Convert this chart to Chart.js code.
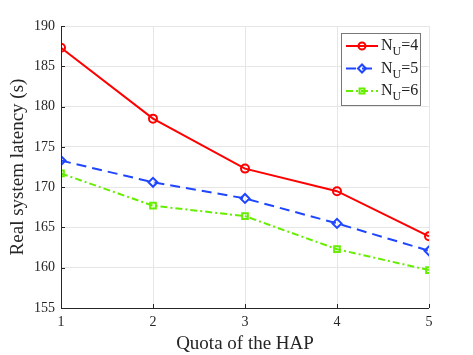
<!DOCTYPE html>
<html>
<head>
<meta charset="utf-8">
<script src="https://cdn.jsdelivr.net/npm/chart.js@4"></script>
<style>
  html, body { margin: 0; padding: 0; background: #fff; }
  #wrap { width: 473px; height: 355px; }
</style>
</head>
<body>
<div id="wrap"><canvas id="chart"></canvas></div>
<script>
const quota = [1, 2, 3, 4, 5];
const latencyNU4 = [187.3, 178.5, 172.3, 169.5, 163.9];
const latencyNU5 = [173.3, 170.6, 168.6, 165.5, 162.1];
const latencyNU6 = [171.7, 167.7, 166.4, 162.3, 159.7];
const seriesLabels = ['4', '5', '6']; // N_U values
const yTicks = [155, 160, 165, 170, 175, 180, 185, 190];

const FONT = 'Liberation Serif';

function toPoints(values) {
    return quota.map((q, i) => ({ x: q, y: values[i] }));
}

// legend drawn by hand, Chart.js legend can't do the subscript
const legendPlugin = {
    id: 'subLegend',
    afterDraw(chart) {
        const ctx = chart.ctx;
        const x0 = 341, y0 = 33, w = 79, h = 72;
        ctx.save();
        ctx.fillStyle = '#fff';
        ctx.fillRect(x0, y0, w, h);
        ctx.strokeStyle = '#777';
        ctx.lineWidth = 1;
        ctx.strokeRect(x0 + 0.5, y0 + 0.5, w, h);

        chart.data.datasets.forEach((ds, i) => {
            const cy = y0 + 13 + i * 22.5;
            ctx.strokeStyle = ds.borderColor;
            ctx.lineWidth = 2;
            ctx.setLineDash(ds.borderDash || []);
            ctx.beginPath();
            ctx.moveTo(x0 + 5, cy);
            ctx.lineTo(x0 + 37, cy);
            ctx.stroke();
            ctx.setLineDash([]);
            ctx.fillStyle = 'rgba(0,0,0,0)';
            Chart.helpers.drawPoint(ctx, {
                pointStyle: ds.pointStyle,
                radius: ds.pointRadius - 0.5,
                borderWidth: 2
            }, x0 + 21, cy);

            ctx.fillStyle = '#222';
            ctx.textBaseline = 'alphabetic';
            ctx.font = '16px ' + FONT;
            const tx = x0 + 40;
            ctx.fillText('N', tx, cy + 4);
            const nW = ctx.measureText('N').width;
            ctx.font = '12px ' + FONT;
            ctx.fillText('U', tx + nW, cy + 9);
            const uW = ctx.measureText('U').width;
            ctx.font = '16px ' + FONT;
            ctx.fillText('=' + seriesLabels[i], tx + nW + uW, cy + 4);
        });
        ctx.restore();
    }
};

// box-off axes: dark left and bottom lines with inward ticks
const axisLines = {
    id: 'axisLines',
    afterDatasetsDraw(chart) {
        const { ctx, chartArea: a, scales } = chart;
        ctx.save();
        ctx.strokeStyle = '#262626';
        ctx.lineWidth = 1;
        ctx.beginPath();
        ctx.moveTo(a.left + 0.5, a.top);
        ctx.lineTo(a.left + 0.5, a.bottom + 0.5);
        ctx.lineTo(a.right, a.bottom + 0.5);
        quota.forEach(q => {
            const px = Math.round(scales.x.getPixelForValue(q)) + 0.5;
            ctx.moveTo(px, a.bottom);
            ctx.lineTo(px, a.bottom - 4);
        });
        yTicks.forEach(v => {
            const py = Math.round(scales.y.getPixelForValue(v)) + 0.5;
            ctx.moveTo(a.left, py);
            ctx.lineTo(a.left + 4, py);
        });
        ctx.stroke();
        ctx.restore();
    }
};

new Chart(document.getElementById('chart'), {
    type: 'line',
    data: {
        datasets: [
            {
                label: 'NU=4',
                data: toPoints(latencyNU4),
                borderColor: '#FF0000',
                backgroundColor: 'transparent',
                borderWidth: 2,
                pointStyle: 'circle',
                pointRadius: 4,
                pointBorderWidth: 2,
                pointBackgroundColor: 'transparent'
            },
            {
                label: 'NU=5',
                data: toPoints(latencyNU5),
                borderColor: '#1E46FF',
                backgroundColor: 'transparent',
                borderWidth: 2,
                borderDash: [10, 6],
                pointStyle: 'rectRot',
                pointRadius: 4.5,
                pointBorderWidth: 2,
                pointBackgroundColor: 'transparent'
            },
            {
                label: 'NU=6',
                data: toPoints(latencyNU6),
                borderColor: '#66EE00',
                backgroundColor: 'transparent',
                borderWidth: 2,
                borderDash: [7, 3, 2, 3],
                pointStyle: 'rect',
                pointRadius: 4,
                pointBorderWidth: 2,
                pointBackgroundColor: 'transparent'
            }
        ]
    },
    options: {
        responsive: true,
        maintainAspectRatio: false,
        animation: false,
        layout: { padding: { top: 26, right: 44, left: 7, bottom: 0 } },
        plugins: {
            legend: { display: false },
            tooltip: { enabled: false }
        },
        scales: {
            x: {
                type: 'linear',
                min: 1,
                max: 5,
                grid: { color: '#e6e6e6', drawTicks: false },
                border: { display: false },
                ticks: {
                    stepSize: 1,
                    color: '#262626',
                    font: { family: FONT, size: 14 },
                    padding: 6
                },
                title: {
                    display: true,
                    text: 'Quota of the HAP',
                    color: '#262626',
                    font: { family: FONT, size: 19 },
                    padding: { top: 0, bottom: 0 }
                },
                afterFit: (s) => { s.height = 47; }
            },
            y: {
                min: 155,
                max: 190,
                afterBuildTicks: (s) => { s.ticks = yTicks.map(v => ({ value: v })); },
                grid: { color: '#e6e6e6', drawTicks: false },
                border: { display: false },
                ticks: {
                    color: '#262626',
                    font: { family: FONT, size: 14 },
                    padding: 6
                },
                title: {
                    display: true,
                    text: 'Real system latency (s)',
                    color: '#262626',
                    font: { family: FONT, size: 19 },
                    padding: { top: 0, bottom: 3 }
                },
                afterFit: (s) => { s.width = 54; }
            }
        }
    },
    plugins: [axisLines, legendPlugin]
});
</script>
</body>
</html>
